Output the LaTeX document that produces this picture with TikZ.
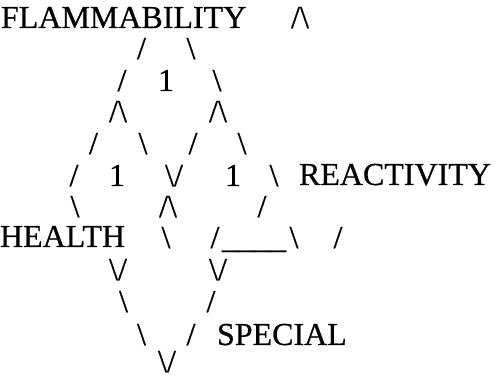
\documentclass[tikz,border=0pt]{standalone}
\usepackage{fontspec}
\setmainfont{Liberation Serif}
\newfontfamily\heavyserif[FakeBold=0.6]{Liberation Serif}
\tikzset{
  glyph/.style={inner sep=0pt, outer sep=0pt, anchor=base, font=\heavyserif\fontsize{32}{32}\selectfont},
  word/.style={inner sep=0pt, outer sep=0pt, anchor=base west, font=\heavyserif\fontsize{32}{32}\selectfont}
}
\newcommand{\bs}{\textbackslash}
\begin{document}
\begin{tikzpicture}[x=1pt,y=-1pt]
\useasboundingbox[fill=white] (0,0) rectangle (501,379);
% row 1
\node[word] (flam) at (1,28) {FLAMMABILITY};
\node[glyph] (r1a) at (300,28) {/\bs};
% row 2
\node[glyph] (r2a) at (141.5,59) {/};
\node[glyph] (r2b) at (191,59) {\bs};
% row 3
\node[glyph] (r3a) at (122,91) {/};
\node[glyph] (n1) at (166,91) {1};
\node[glyph] (r3b) at (217,91) {\bs};
% row 4
\node[glyph] (r4a) at (118,122) {/\bs};
\node[glyph] (r4b) at (218,122) {/\bs};
% row 5
\node[glyph] (r5a) at (93.5,154) {/};
\node[glyph] (r5b) at (143,154) {\bs};
\node[glyph] (r5c) at (193,154) {/};
\node[glyph] (r5d) at (242,154) {\bs};
% row 6
\node[glyph] (r6a) at (74,186) {/};
\node[glyph] (n2) at (117,186) {1};
\node[glyph] (r6b) at (174,186) {\bs/};
\node[glyph] (n3) at (233,186) {1};
\node[glyph] (r6c) at (274,186) {\bs};
\node[word] (react) at (299,185) {REACTIVITY};
% row 7
\node[glyph] (r7a) at (75,217) {\bs};
\node[glyph] (r7b) at (168,217) {/\bs};
\node[glyph] (r7c) at (262,217) {/};
% row 8
\node[word] (health) at (0,247) {HEALTH};
\node[glyph] (r8a) at (166,248) {\bs};
\node[glyph] (r8b) at (215,248) {/};
\node[word] (und) at (222,248) {\_\_\_\_};
\node[glyph] (r8c) at (294,248) {\bs};
\node[glyph] (r8d) at (338,248) {/};
% row 9
\node[glyph] (r9a) at (118,280) {\bs/};
\node[glyph] (r9b) at (218,280) {\bs/};
% row 10
\node[glyph] (r10a) at (123.5,312) {\bs};
\node[glyph] (r10b) at (211,312) {/};
% row 11
\node[glyph] (r11a) at (141.5,345) {\bs};
\node[glyph] (r11b) at (191,345) {/};
\node[word] (special) at (217,345) {SPECIAL};
% row 12
\node[glyph] (r12a) at (167,372) {\bs/};
\end{tikzpicture}
\end{document}
